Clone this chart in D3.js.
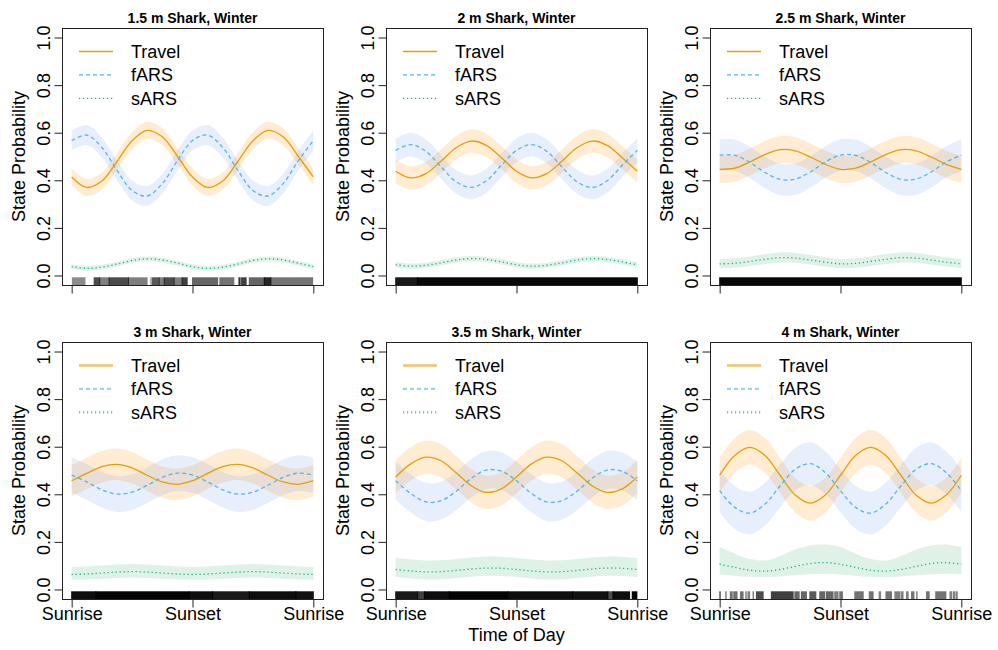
<!DOCTYPE html>
<html>
<head>
<meta charset="utf-8">
<script src="https://cdn.jsdelivr.net/npm/d3@7"></script>
<style>
  body { margin: 0; background: #fff; }
  text { font-family: "Liberation Sans", Arial, Helvetica, sans-serif; fill: #000; }
</style>
</head>
<body>
<svg id="chart" width="998" height="650"></svg>
<script>
// panel titles, left to right, top to bottom
let panelTitles = ["1.5 m Shark, Winter", "2 m Shark, Winter", "2.5 m Shark, Winter",
                   "3 m Shark, Winter", "3.5 m Shark, Winter", "4 m Shark, Winter"];
let stateNames = ["Travel", "fARS", "sARS"];
let xTickValues = [0, 0.5, 1];
let xTickLabels = ["Sunrise", "Sunset", "Sunrise"];
let yTicks = [0, 0.2, 0.4, 0.6, 0.8, 1.0];

// time of day, 0 = sunrise, 0.5 = sunset, 1 = next sunrise
let timeOfDay = [0, 0.0625, 0.125, 0.1875, 0.25, 0.3125, 0.375, 0.4375, 0.5,
                 0.5625, 0.625, 0.6875, 0.75, 0.8125, 0.875, 0.9375, 1];

// Travel state probability (mean, lower, upper), one row per panel
let travelMean = [
  [0.414,0.370,0.397,0.479,0.566,0.610,0.583,0.501,0.414,0.370,0.397,0.479,0.566,0.610,0.583,0.501,0.414],
  [0.438,0.410,0.428,0.480,0.537,0.565,0.547,0.495,0.438,0.410,0.428,0.480,0.537,0.565,0.547,0.495,0.438],
  [0.446,0.451,0.477,0.508,0.529,0.524,0.498,0.467,0.446,0.451,0.477,0.508,0.529,0.524,0.498,0.467,0.446],
  [0.457,0.488,0.516,0.526,0.511,0.480,0.452,0.442,0.457,0.488,0.516,0.526,0.511,0.480,0.452,0.442,0.457],
  [0.473,0.528,0.556,0.541,0.491,0.436,0.408,0.423,0.473,0.528,0.556,0.541,0.491,0.436,0.408,0.423,0.473],
  [0.480,0.563,0.597,0.563,0.480,0.397,0.363,0.397,0.480,0.563,0.597,0.563,0.480,0.397,0.363,0.397,0.480]
];
let travelLo = [
  [0.378,0.334,0.361,0.443,0.530,0.574,0.547,0.465,0.378,0.334,0.361,0.443,0.530,0.574,0.547,0.465,0.378],
  [0.389,0.361,0.379,0.431,0.488,0.516,0.498,0.446,0.389,0.361,0.379,0.431,0.488,0.516,0.498,0.446,0.389],
  [0.389,0.394,0.420,0.451,0.472,0.467,0.441,0.410,0.389,0.394,0.420,0.451,0.472,0.467,0.441,0.410,0.389],
  [0.391,0.422,0.450,0.460,0.445,0.414,0.386,0.376,0.391,0.422,0.450,0.460,0.445,0.414,0.386,0.376,0.391],
  [0.403,0.458,0.486,0.471,0.421,0.366,0.338,0.353,0.403,0.458,0.486,0.471,0.421,0.366,0.338,0.353,0.403],
  [0.407,0.490,0.524,0.490,0.407,0.324,0.290,0.324,0.407,0.490,0.524,0.490,0.407,0.324,0.290,0.324,0.407]
];
let travelHi = [
  [0.450,0.406,0.433,0.515,0.602,0.646,0.619,0.537,0.450,0.406,0.433,0.515,0.602,0.646,0.619,0.537,0.450],
  [0.487,0.459,0.477,0.529,0.586,0.614,0.596,0.544,0.487,0.459,0.477,0.529,0.586,0.614,0.596,0.544,0.487],
  [0.503,0.508,0.534,0.565,0.586,0.581,0.555,0.524,0.503,0.508,0.534,0.565,0.586,0.581,0.555,0.524,0.503],
  [0.523,0.554,0.582,0.592,0.577,0.546,0.518,0.508,0.523,0.554,0.582,0.592,0.577,0.546,0.518,0.508,0.523],
  [0.543,0.598,0.626,0.611,0.561,0.506,0.478,0.493,0.543,0.598,0.626,0.611,0.561,0.506,0.478,0.493,0.543],
  [0.553,0.636,0.670,0.636,0.553,0.470,0.436,0.470,0.553,0.636,0.670,0.636,0.553,0.470,0.436,0.470,0.553]
];

// fast area-restricted search
let farsMean = [
  [0.567,0.590,0.538,0.442,0.357,0.334,0.386,0.482,0.567,0.590,0.538,0.442,0.357,0.334,0.386,0.482,0.567],
  [0.526,0.550,0.522,0.457,0.394,0.370,0.398,0.463,0.526,0.550,0.522,0.457,0.394,0.370,0.398,0.463,0.526],
  [0.506,0.505,0.475,0.433,0.404,0.405,0.435,0.477,0.506,0.505,0.475,0.433,0.404,0.405,0.435,0.477,0.506],
  [0.481,0.452,0.419,0.401,0.409,0.438,0.471,0.489,0.481,0.452,0.419,0.401,0.409,0.438,0.471,0.489,0.481],
  [0.457,0.403,0.368,0.373,0.413,0.467,0.502,0.497,0.457,0.403,0.368,0.373,0.413,0.467,0.502,0.497,0.457],
  [0.415,0.345,0.321,0.359,0.435,0.505,0.529,0.491,0.415,0.345,0.321,0.359,0.435,0.505,0.529,0.491,0.415]
];
let farsLo = [
  [0.525,0.548,0.496,0.400,0.315,0.292,0.344,0.440,0.525,0.548,0.496,0.400,0.315,0.292,0.344,0.440,0.525],
  [0.476,0.500,0.472,0.407,0.344,0.320,0.348,0.413,0.476,0.500,0.472,0.407,0.344,0.320,0.348,0.413,0.476],
  [0.440,0.439,0.409,0.367,0.338,0.339,0.369,0.411,0.440,0.439,0.409,0.367,0.338,0.339,0.369,0.411,0.440],
  [0.406,0.377,0.344,0.326,0.334,0.363,0.396,0.414,0.406,0.377,0.344,0.326,0.334,0.363,0.396,0.414,0.406],
  [0.377,0.323,0.288,0.293,0.333,0.387,0.422,0.417,0.377,0.323,0.288,0.293,0.333,0.387,0.422,0.417,0.377],
  [0.325,0.255,0.231,0.269,0.345,0.415,0.439,0.401,0.325,0.255,0.231,0.269,0.345,0.415,0.439,0.401,0.325]
];
let farsHi = [
  [0.609,0.632,0.580,0.484,0.399,0.376,0.428,0.524,0.609,0.632,0.580,0.484,0.399,0.376,0.428,0.524,0.609],
  [0.576,0.600,0.572,0.507,0.444,0.420,0.448,0.513,0.576,0.600,0.572,0.507,0.444,0.420,0.448,0.513,0.576],
  [0.572,0.571,0.541,0.499,0.470,0.471,0.501,0.543,0.572,0.571,0.541,0.499,0.470,0.471,0.501,0.543,0.572],
  [0.556,0.527,0.494,0.476,0.484,0.513,0.546,0.564,0.556,0.527,0.494,0.476,0.484,0.513,0.546,0.564,0.556],
  [0.537,0.483,0.448,0.453,0.493,0.547,0.582,0.577,0.537,0.483,0.448,0.453,0.493,0.547,0.582,0.577,0.537],
  [0.505,0.435,0.411,0.449,0.525,0.595,0.619,0.581,0.505,0.435,0.411,0.449,0.525,0.595,0.619,0.581,0.505]
];

// slow area-restricted search
let sarsMean = [
  [0.037,0.030,0.035,0.048,0.063,0.070,0.065,0.052,0.037,0.030,0.035,0.048,0.063,0.070,0.065,0.052,0.037],
  [0.045,0.039,0.043,0.053,0.065,0.071,0.067,0.057,0.045,0.039,0.043,0.053,0.065,0.071,0.067,0.057,0.045],
  [0.049,0.051,0.059,0.068,0.075,0.073,0.065,0.056,0.049,0.051,0.059,0.068,0.075,0.073,0.065,0.056,0.049],
  [0.063,0.065,0.069,0.073,0.075,0.073,0.069,0.065,0.063,0.065,0.069,0.073,0.075,0.073,0.069,0.065,0.063],
  [0.084,0.078,0.074,0.075,0.080,0.086,0.090,0.089,0.084,0.078,0.074,0.075,0.080,0.086,0.090,0.089,0.084],
  [0.106,0.093,0.081,0.077,0.084,0.097,0.109,0.113,0.106,0.093,0.081,0.077,0.084,0.097,0.109,0.113,0.106]
];
let sarsLo = [
  [0.027,0.020,0.025,0.038,0.053,0.060,0.055,0.042,0.027,0.020,0.025,0.038,0.053,0.060,0.055,0.042,0.027],
  [0.034,0.028,0.032,0.042,0.054,0.060,0.056,0.046,0.034,0.028,0.032,0.042,0.054,0.060,0.056,0.046,0.034],
  [0.031,0.033,0.040,0.048,0.054,0.053,0.046,0.038,0.031,0.033,0.040,0.048,0.054,0.053,0.046,0.038,0.031],
  [0.041,0.042,0.045,0.048,0.050,0.048,0.045,0.042,0.041,0.042,0.045,0.048,0.050,0.048,0.045,0.042,0.041],
  [0.052,0.046,0.042,0.043,0.048,0.054,0.058,0.057,0.052,0.046,0.042,0.043,0.048,0.054,0.058,0.057,0.052],
  [0.063,0.058,0.053,0.052,0.055,0.060,0.064,0.066,0.063,0.058,0.053,0.052,0.055,0.060,0.064,0.066,0.063]
];
let sarsHi = [
  [0.047,0.040,0.045,0.058,0.073,0.080,0.075,0.062,0.047,0.040,0.045,0.058,0.073,0.080,0.075,0.062,0.047],
  [0.056,0.050,0.054,0.064,0.076,0.082,0.078,0.068,0.056,0.050,0.054,0.064,0.076,0.082,0.078,0.068,0.056],
  [0.069,0.072,0.080,0.090,0.097,0.095,0.086,0.077,0.069,0.072,0.080,0.090,0.097,0.095,0.086,0.077,0.069],
  [0.095,0.097,0.101,0.105,0.107,0.105,0.101,0.097,0.095,0.097,0.101,0.105,0.107,0.105,0.101,0.097,0.095],
  [0.132,0.126,0.122,0.123,0.128,0.134,0.138,0.137,0.132,0.126,0.122,0.123,0.128,0.134,0.138,0.137,0.132],
  [0.178,0.150,0.128,0.122,0.140,0.168,0.185,0.189,0.178,0.150,0.128,0.122,0.140,0.168,0.185,0.189,0.178]
];

// rug of observation times: [from, to, darkness]
let rugMarks = [
  [[0.003,0.055,0.45],[0.093,0.116,0.7],[0.116,0.155,0.5],[0.155,0.235,0.7],[0.235,0.312,0.5],
   [0.326,0.330,0.3],[0.334,0.362,0.65],[0.362,0.383,0.5],[0.383,0.424,0.7],[0.424,0.457,0.5],
   [0.457,0.478,0.75],[0.500,0.604,0.6],[0.613,0.671,0.55],[0.692,0.697,0.8],[0.703,0.722,0.75],
   [0.735,0.797,0.6],[0.797,0.824,0.85],[0.824,0.997,0.55]],
  [[0,0.09,0.9],[0.09,1,0.97]],
  [[0,1,0.97]],
  [[0,0.1,0.95],[0.1,0.486,0.99],[0.486,0.583,0.95],[0.583,0.735,0.9],[0.735,0.928,0.95],[0.928,1,0.93]],
  [[0,0.091,0.9],[0.091,0.119,0.75],[0.119,0.222,0.95],[0.222,0.464,0.99],[0.464,0.733,0.95],
   [0.733,0.878,0.93],[0.878,0.899,0.7],[0.899,0.968,0.95],[0.979,0.998,0.98]],
  [[0,0.003,0.6],[0.025,0.027,0.5],[0.044,0.052,0.55],[0.058,0.072,0.55],[0.086,0.097,0.55],
   [0.108,0.110,0.5],[0.117,0.124,0.5],[0.138,0.140,0.5],[0.152,0.18,0.7],[0.214,0.304,0.75],
   [0.311,0.329,0.6],[0.338,0.359,0.6],[0.373,0.398,0.65],[0.414,0.435,0.6],[0.442,0.469,0.6],
   [0.476,0.49,0.5],[0.497,0.508,0.55],[0.559,0.594,0.55],[0.619,0.635,0.55],[0.66,0.666,0.5],
   [0.688,0.711,0.55],[0.725,0.746,0.5],[0.752,0.759,0.5],[0.773,0.78,0.5],[0.794,0.804,0.55],
   [0.815,0.817,0.5],[0.856,0.867,0.55],[0.894,0.936,0.55],[0.953,0.96,0.5],[0.967,0.974,0.5],
   [0.98,0.983,0.5]]
];

var svg = d3.select("#chart");

let lineColors = ["#E69F00", "#56B4E9", "#1AA97B"];
let fillColors = ["rgba(255,160,30,0.2)", "rgba(100,149,237,0.15)", "rgba(60,179,113,0.17)"];
let dashes = [null, "4,3", "1.2,2.8"];

let boxW = 261, boxH = 257;
let colStep = 324, rowStep = 314;
let left0 = 62, top0 = 28;

var drawPanel = function(p) {
  let col = p % 3, row = Math.floor(p / 3);
  let bx = left0 + col * colStep;
  let by = top0 + row * rowStep;

  // R style 4% padding on both axes
  let x = d3.scaleLinear().domain([-0.04, 1.04]).range([bx, bx + boxW]);
  let y = d3.scaleLinear().domain([-0.04, 1.04]).range([by + boxH, by]);

  let g = svg.append("g").attr("class", "panel");

  let series = [
    { mean: travelMean[p], lo: travelLo[p], hi: travelHi[p] },
    { mean: farsMean[p],   lo: farsLo[p],   hi: farsHi[p] },
    { mean: sarsMean[p],   lo: sarsLo[p],   hi: sarsHi[p] }
  ];

  let area = d3.area()
    .x(function(d) { return x(d.t); })
    .y0(function(d) { return y(d.lo); })
    .y1(function(d) { return y(d.hi); })
    .curve(d3.curveCatmullRom.alpha(0.5));
  let line = d3.line()
    .x(function(d) { return x(d.t); })
    .y(function(d) { return y(d.v); })
    .curve(d3.curveCatmullRom.alpha(0.5));

  // confidence ribbons first
  series.forEach(function(s, k) {
    let pts = timeOfDay.map(function(t, i) { return { t: t, lo: s.lo[i], hi: s.hi[i] }; });
    g.append("path").attr("d", area(pts)).attr("fill", fillColors[k]).attr("stroke", "none");
  });
  // then mean lines
  series.forEach(function(s, k) {
    let pts = timeOfDay.map(function(t, i) { return { t: t, v: s.mean[i] }; });
    g.append("path").attr("d", line(pts))
      .attr("fill", "none")
      .attr("stroke", lineColors[k])
      .attr("stroke-width", 1.3)
      .attr("stroke-dasharray", dashes[k]);
  });

  // rug along the bottom edge
  let rugH = 0.03 * boxH;
  g.selectAll("rect.rug")
    .data(rugMarks[p])
    .enter().append("rect")
      .attr("class", "rug")
      .attr("x", function(d) { return x(d[0]) - 0.5; })
      .attr("width", function(d) { return Math.max(1, x(d[1]) - x(d[0]) + 1); })
      .attr("y", by + boxH - rugH)
      .attr("height", rugH)
      .attr("fill", "#000")
      .attr("fill-opacity", function(d) { return d[2]; });

  // box
  g.append("rect")
    .attr("x", bx + 0.5).attr("y", by + 0.5)
    .attr("width", boxW).attr("height", boxH)
    .attr("fill", "none").attr("stroke", "#222").attr("stroke-width", 1);

  // y axis, labels turned parallel to the axis
  let yAxis = d3.axisLeft(y).tickValues(yTicks).tickSize(8).tickSizeOuter(0).tickFormat(d3.format(".1f"));
  let yGroup = g.append("g").attr("transform", "translate(" + (bx + 0.5) + ",0)").call(yAxis);
  yGroup.select(".domain").remove();
  yGroup.selectAll(".tick line").attr("stroke", "#222");
  yGroup.selectAll(".tick text")
    .attr("x", null).attr("dy", null)
    .attr("text-anchor", "middle")
    .attr("transform", "translate(-13,0) rotate(-90)")
    .style("font-size", "18px")
    .style("font-family", "'Liberation Sans', Arial, sans-serif");

  // x axis, labels only on the bottom row
  let xAxis = d3.axisBottom(x).tickValues(xTickValues).tickSize(8).tickSizeOuter(0)
    .tickFormat(function(d, i) { return row == 1 ? xTickLabels[i] : ""; });
  let xGroup = g.append("g").attr("transform", "translate(0," + (by + boxH + 0.5) + ")").call(xAxis);
  xGroup.select(".domain").remove();
  xGroup.selectAll(".tick line").attr("stroke", "#222");
  xGroup.selectAll(".tick text")
    .attr("y", 8)
    .style("font-size", "18px")
    .style("font-family", "'Liberation Sans', Arial, sans-serif");

  // title
  g.append("text")
    .attr("x", bx + boxW / 2).attr("y", by - 5.5)
    .attr("text-anchor", "middle")
    .style("font-size", "14px").style("font-weight", "bold")
    .text(panelTitles[p]);

  // y label
  g.append("text")
    .attr("transform", "translate(" + (bx - 37) + "," + (by + boxH / 2) + ") rotate(-90)")
    .attr("text-anchor", "middle")
    .style("font-size", "18px")
    .text("State Probability");

  // legend (bottom row was drawn with heavier, paler keys)
  stateNames.forEach(function(name, k) {
    let ly = by + 23.5 + k * 23.4;
    g.append("line")
      .attr("x1", bx + 17).attr("x2", bx + 51)
      .attr("y1", ly).attr("y2", ly)
      .attr("stroke", lineColors[k])
      .attr("stroke-width", row == 1 ? 2.4 : 1.3)
      .attr("stroke-opacity", row == 1 ? 0.6 : 1)
      .attr("stroke-dasharray", dashes[k]);
    g.append("text")
      .attr("x", bx + 69).attr("y", ly)
      .attr("dy", "0.35em")
      .style("font-size", "18px")
      .text(name);
  });
};

for (let p = 0; p < 6; p++) {
  drawPanel(p);
}

// shared x label
svg.append("text")
  .attr("x", left0 + colStep + boxW / 2).attr("y", 641)
  .attr("text-anchor", "middle")
  .style("font-size", "18px")
  .text("Time of Day");
</script>
</body>
</html>
